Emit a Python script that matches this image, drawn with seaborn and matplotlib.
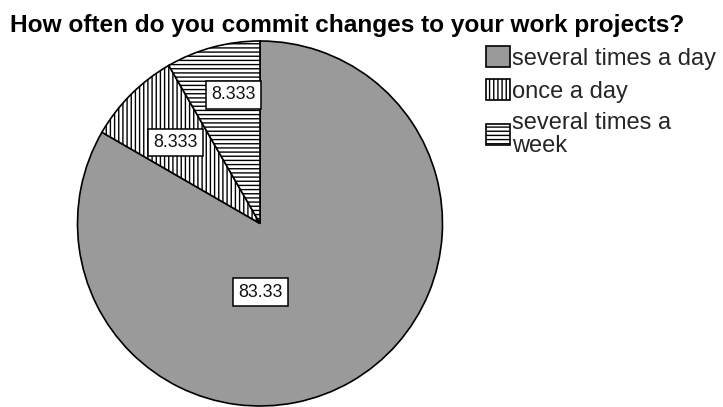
import matplotlib
matplotlib.use("Agg")
import matplotlib.pyplot as plt
import seaborn as sns

categories = ["several times a day", "once a day", "several times a\nweek"]
values = [83.33, 8.333, 8.333]
value_labels = ["83.33", "8.333", "8.333"]
title = "How often do you commit changes to your work projects?"

sns.set_theme(style="white")
plt.rcParams["font.family"] = ["Liberation Sans", "DejaVu Sans"]
plt.rcParams["hatch.linewidth"] = 1.0

W, H = 723, 407
fig = plt.figure(figsize=(W / 100, H / 100), dpi=100)
fig.patch.set_facecolor("white")

# pie spans x 77..443, y 41..406 (pixels)
ax = fig.add_axes([77 / W, 1 - 406 / H, 366 / W, 365 / H])
fills = ["#9a9a9a", "white", "white"]
hatches = [None, "||||", "----"]
wedges, _ = ax.pie(values, startangle=90, counterclock=False, radius=1,
                   colors=fills,
                   wedgeprops=dict(edgecolor="black", linewidth=1.2))
for w, h in zip(wedges, hatches):
    if h:
        w.set_hatch(h)
ax.set_xlim(-1, 1)
ax.set_ylim(-1, 1)
ax.set_aspect("equal")
ax.axis("off")

label_pos = [(0.005, -0.377), (-0.464, 0.443), (-0.145, 0.705)]
for (x, y), t in zip(label_pos, value_labels):
    ax.text(x, y, t, ha="center", va="center", fontsize=12.8, color="#111111",
            bbox=dict(boxstyle="square,pad=0.3", fc="white", ec="black", lw=1.1))

fig.text(10 / W, 1 - 32 / H, title, fontsize=17.6, fontweight="bold",
         ha="left", va="baseline", color="black")

leg = fig.legend(wedges, categories, loc="upper left",
                 bbox_to_anchor=(486 / W, 1 - 46 / H), frameon=False,
                 fontsize=17, borderpad=0, borderaxespad=0,
                 handlelength=1.0, handleheight=1.0, handletextpad=0.12,
                 labelspacing=0.4)
for t in leg.get_texts():
    t.set_linespacing(1.02)

fig.savefig("out.png", dpi=100, facecolor="white")
